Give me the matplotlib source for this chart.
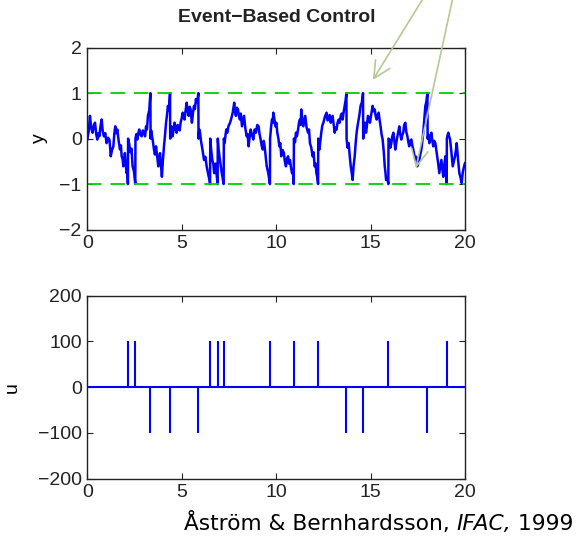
import matplotlib
matplotlib.use("Agg")
import matplotlib.pyplot as plt

# ---------------- data ----------------
t = [0.00, 0.07, 0.14, 0.21, 0.28, 0.35, 0.41, 0.47, 0.53, 0.59, 0.64, 0.70, 0.76, 0.82, 0.88, 0.95, 1.02, 1.10, 1.17, 1.21, 1.24, 1.31, 1.38, 1.43, 1.48, 1.54, 1.59, 1.66, 1.73, 1.78, 1.82, 1.87, 1.91, 1.95, 1.99, 2.04, 2.08, 2.12, 2.15,
     2.16, 2.22, 2.28, 2.34, 2.40, 2.47, 2.54,
     2.55, 2.60, 2.65, 2.70, 2.75, 2.82, 2.88, 2.94, 3.00, 3.06, 3.11, 3.16, 3.21, 3.28, 3.34,
     3.35, 3.38, 3.41, 3.47, 3.53, 3.58, 3.64, 3.70, 3.76, 3.80, 3.85, 3.90, 3.95, 4.00, 4.06, 4.11, 4.17, 4.22, 4.27, 4.32, 4.38,
     4.39, 4.42, 4.45, 4.48, 4.52, 4.57, 4.62, 4.67, 4.73, 4.78, 4.84, 4.89, 4.94, 5.00, 5.05, 5.10, 5.15, 5.20, 5.26, 5.31, 5.37, 5.42, 5.47, 5.50, 5.54, 5.60, 5.65, 5.70, 5.75, 5.82, 5.88,
     5.89, 5.93, 5.97, 6.02, 6.07, 6.12, 6.18, 6.25, 6.32, 6.37, 6.43, 6.47, 6.50,
     6.51, 6.56, 6.62, 6.67, 6.72, 6.76, 6.80, 6.85, 6.90,
     6.91, 6.95, 7.00, 7.05, 7.10, 7.16, 7.22,
     7.23, 7.27, 7.31, 7.36, 7.41, 7.48, 7.56, 7.63, 7.70, 7.74, 7.78, 7.82, 7.87, 7.92, 7.98, 8.03, 8.08, 8.13, 8.19, 8.25, 8.30, 8.37, 8.44, 8.49, 8.54, 8.60, 8.65, 8.72, 8.79, 8.86, 8.93, 9.00, 9.07, 9.12, 9.18, 9.23, 9.29, 9.34, 9.39, 9.45, 9.50, 9.58, 9.67,
     9.68, 9.73, 9.78, 9.82, 9.85, 9.90, 9.96, 10.01, 10.06, 10.12, 10.17, 10.22, 10.27, 10.34, 10.41, 10.46, 10.52, 10.57, 10.63, 10.68, 10.73, 10.78, 10.84, 10.88, 10.93,
     10.94, 11.00, 11.05, 11.10, 11.16, 11.21, 11.26, 11.30, 11.33, 11.38, 11.44, 11.49, 11.54, 11.61, 11.69, 11.74, 11.79, 11.86, 11.93, 11.98, 12.04, 12.09, 12.13, 12.18, 12.22,
     12.23, 12.26, 12.29, 12.34, 12.39, 12.44, 12.50, 12.58, 12.67, 12.72, 12.78, 12.83, 12.89, 12.94, 12.99, 13.05, 13.10, 13.15, 13.20, 13.25, 13.31, 13.36, 13.42, 13.47, 13.52, 13.58, 13.63, 13.68, 13.72,
     13.73, 13.78, 13.84, 13.90, 13.95, 14.00, 14.05, 14.10, 14.16, 14.21, 14.26, 14.32, 14.37, 14.42, 14.47, 14.54, 14.60,
     14.61, 14.63, 14.65, 14.70, 14.76, 14.81, 14.86, 14.92, 14.97, 15.04, 15.11, 15.16, 15.22, 15.27, 15.32, 15.38, 15.43, 15.48, 15.53, 15.58, 15.64, 15.70, 15.75, 15.79, 15.82, 15.88, 15.94,
     15.95, 16.00, 16.05, 16.10, 16.15, 16.21, 16.26, 16.31, 16.36, 16.42, 16.47, 16.52, 16.57, 16.63, 16.68, 16.73, 16.78, 16.84, 16.89, 16.95, 17.00, 17.05, 17.10, 17.16, 17.21, 17.26, 17.31, 17.37, 17.42, 17.47, 17.52, 17.58, 17.63, 17.69, 17.74, 17.79, 17.85, 17.90, 17.95, 18.01,
     18.02, 18.06, 18.11, 18.16, 18.22, 18.27, 18.32, 18.37, 18.43, 18.48, 18.53, 18.58, 18.64, 18.70, 18.75, 18.80, 18.85, 18.90, 18.96, 19.00, 19.03,
     19.04, 19.08, 19.12, 19.16, 19.21, 19.28, 19.35, 19.41, 19.47, 19.52, 19.56, 19.63, 19.70, 19.76, 19.82, 19.88, 19.95, 20.00]

y = [-0.02, 0.15, 0.50, 0.22, 0.13, 0.30, 0.35, 0.10, -0.02, 0.12, 0.05, 0.28, 0.42, 0.15, 0.05, 0.12, -0.10, 0.02, -0.02, -0.20, -0.39, -0.25, -0.17, 0.10, 0.27, 0.12, 0.20, -0.05, -0.24, -0.15, -0.39, -0.45, -0.61, -0.48, -0.32, -0.55, -0.76, -0.70, -1.00,
     0.00, -0.12, -0.30, -0.22, -0.61, -0.72, -1.00,
     0.00, 0.10, -0.02, 0.12, 0.20, 0.08, 0.05, 0.18, 0.13, 0.05, 0.27, 0.20, 0.50, 0.62, 1.00,
     0.00, 0.18, 0.10, -0.05, -0.24, -0.35, -0.17, -0.40, -0.61, -0.50, -0.32, -0.58, -0.84, -0.50, -0.17, 0.05, 0.35, 0.52, 0.72, 0.62, 1.00,
     0.00, 0.15, 0.27, 0.12, 0.05, 0.22, 0.35, 0.20, 0.13, 0.30, 0.27, 0.18, 0.35, 0.45, 0.57, 0.52, 0.42, 0.60, 0.79, 0.62, 0.50, 0.70, 0.64, 0.50, 0.35, 0.58, 0.72, 0.65, 0.87, 0.80, 1.00,
     0.00, 0.20, 0.13, -0.05, -0.17, -0.30, -0.47, -0.40, -0.61, -0.72, -0.84, -0.90, -1.00,
     0.00, -0.25, -0.47, -0.55, -0.76, -0.65, -0.55, -0.80, -1.00,
     0.00, -0.22, -0.40, -0.55, -0.70, -0.85, -1.00,
     0.00, -0.10, 0.05, 0.20, 0.13, 0.28, 0.35, 0.45, 0.57, 0.68, 0.79, 0.60, 0.50, 0.68, 0.64, 0.50, 0.42, 0.55, 0.27, 0.40, 0.50, 0.22, 0.05, 0.10, -0.17, 0.05, 0.20, 0.08, -0.02, 0.20, 0.13, 0.30, 0.27, 0.10, -0.02, -0.15, -0.24, -0.05, -0.17, -0.40, -0.61, -0.75, -1.00,
     0.00, 0.25, 0.42, 0.35, 0.57, 0.45, 0.27, 0.35, 0.13, 0.00, -0.17, -0.10, -0.39, -0.25, -0.32, -0.50, -0.61, -0.45, -0.39, -0.55, -0.47, -0.62, -0.76, -0.70, -1.00,
     0.00, -0.08, 0.13, 0.05, 0.20, 0.35, 0.42, 0.30, 0.64, 0.45, 0.27, 0.38, 0.50, 0.25, 0.13, 0.20, -0.10, -0.20, -0.39, -0.30, -0.61, -0.55, -0.76, -0.85, -1.00,
     0.00, -0.12, -0.24, -0.05, 0.13, 0.28, 0.35, 0.48, 0.57, 0.40, 0.42, 0.52, 0.35, 0.42, 0.50, 0.30, 0.13, 0.25, 0.20, 0.35, 0.42, 0.35, 0.50, 0.55, 0.42, 0.60, 0.72, 0.85, 1.00,
     0.00, -0.20, -0.10, -0.40, -0.61, -0.75, -0.91, -0.60, -0.39, -0.10, 0.13, 0.30, 0.42, 0.55, 0.72, 0.80, 1.00,
     0.00, 0.15, 0.27, 0.35, 0.13, 0.30, 0.50, 0.45, 0.35, 0.55, 0.72, 0.60, 0.64, 0.50, 0.42, 0.52, 0.57, 0.40, 0.27, 0.10, -0.02, -0.30, -0.61, -0.75, -0.91, -0.85, -1.00,
     0.00, -0.02, -0.20, -0.10, 0.05, 0.13, -0.05, -0.24, -0.10, 0.05, 0.15, 0.27, 0.10, -0.02, 0.08, 0.13, 0.30, 0.35, 0.15, 0.05, -0.08, -0.17, -0.05, -0.02, -0.15, -0.24, -0.35, -0.47, -0.40, -0.61, -0.55, -0.47, -0.35, -0.24, -0.05, 0.13, 0.45, 0.72, 0.80, 1.00,
     0.00, 0.08, -0.10, 0.02, 0.13, -0.05, -0.17, -0.05, -0.10, -0.25, -0.39, -0.55, -0.76, -0.60, -0.47, -0.65, -0.84, -0.60, -0.39, -0.70, -1.00,
     0.00, 0.08, 0.13, 0.05, -0.02, -0.30, -0.61, -0.50, -0.39, -0.25, -0.10, -0.45, -0.76, -0.85, -0.98, -0.75, -0.61, -0.54]

event_t = [2.15, 2.54, 3.34, 4.38, 5.88, 6.50, 6.90, 7.22, 9.67, 10.93, 12.22, 13.72, 14.60, 15.94, 18.01, 19.03]
event_u = [100, 100, -100, -100, -100, 100, 100, 100, 100, 100, 100, -100, -100, 100, -100, 100]

thresholds = [1, -1]
x_ticks = [0, 5, 10, 15, 20]
y_ticks = [-2, -1, 0, 1, 2]
u_ticks = [-200, -100, 0, 100, 200]

title = "Event\u2212Based Control"
citation_plain = "\u00c5str\u00f6m & Bernhardsson, "
citation_ital = "IFAC,"
citation_end = " 1999"

assert len(t) == len(y)

# ---------------- figure ----------------
W, H = 582, 537
fig = plt.figure(figsize=(W / 100, H / 100), dpi=100)
plt.rcParams['font.family'] = ['Liberation Sans', 'DejaVu Sans']

def px_axes(left, top, right, bottom):
    return fig.add_axes([left / W, 1 - bottom / H, (right - left) / W, (bottom - top) / H])

ax1 = px_axes(87.3, 47.7, 465.0, 229.5)
ax2 = px_axes(87.3, 295.7, 465.0, 478.7)

blue = '#0000ff'
green = '#00d000'

ax1.plot(t, y, color=blue, lw=1.8)
for th in thresholds:
    ax1.axhline(th, color=green, lw=1.3, dashes=(8, 5))
ax1.set_xlim(0, 20)
ax1.set_ylim(-2, 2)
ax1.set_xticks(x_ticks)
ax1.set_yticks(y_ticks)
ax1.set_ylabel('y', fontsize=14)
ax1.yaxis.set_label_coords(-0.105, 0.5)

ax2.axhline(0, color=blue, lw=1.5)
ax2.vlines(event_t, 0, event_u, color=blue, lw=1.5)
ax2.set_xlim(0, 20)
ax2.set_ylim(-200, 200)
ax2.set_xticks(x_ticks)
ax2.set_yticks(u_ticks)
ax2.set_ylabel('u', fontsize=14)
ax2.yaxis.set_label_coords(-0.175, 0.5)

for ax in (ax1, ax2):
    ax.tick_params(direction='in', length=4, width=0.8, top=True, right=True,
                   labelsize=14, pad=4, colors='#222222')
    for s in ax.spines.values():
        s.set_linewidth(1.0)
        s.set_color('#222222')

fig.text(277 / W, 1 - 18 / H, title, ha='center', va='center', fontsize=14, fontweight='bold',
         color='#222222')

# citation
txt_kw = dict(fontsize=15.7, family='DejaVu Sans', va='baseline', color='black')
x0 = 184 / W
yb = 1 - 530 / H
t1 = fig.text(x0, yb, citation_plain, **txt_kw)
fig.canvas.draw()
r = fig.canvas.get_renderer()
bb = t1.get_window_extent(r)
t2 = fig.text(bb.x1 / W, yb, citation_ital, style='italic', **txt_kw)
bb2 = t2.get_window_extent(r)
fig.text(bb2.x1 / W, yb, citation_end, **txt_kw)

# annotation arrows
arrow_col = '#b4c994'
for tip, tail in [((15.12, 1.29), (424, 540)), ((17.40, -0.65), (453, 540))]:
    ax1.annotate('', xy=tip, xycoords='data', xytext=tail, textcoords='figure pixels',
                 arrowprops=dict(arrowstyle='->,head_length=0.6,head_width=0.3', color=arrow_col,
                                 lw=1.2, mutation_scale=20, shrinkA=0, shrinkB=0),
                 annotation_clip=False)

fig.savefig('out.png', dpi=100)
